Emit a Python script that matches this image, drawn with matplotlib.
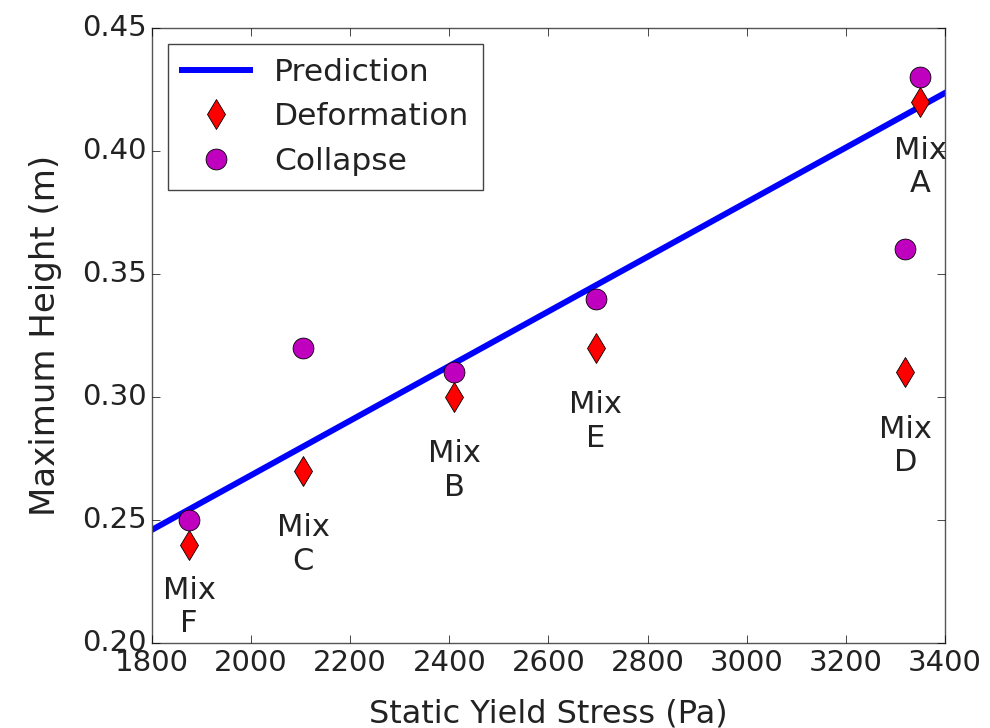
import numpy as np
import matplotlib
matplotlib.use('Agg')
import matplotlib.pyplot as plt

plt.style.use('classic')

# data
mixes = ['A', 'B', 'C', 'D', 'E', 'F']
stress = [3350, 2410, 2105, 3320, 2695, 1875]        # static yield stress (Pa)
deformation = [0.42, 0.30, 0.27, 0.31, 0.32, 0.24]   # max height (m)
collapse = [0.43, 0.31, 0.32, 0.36, 0.34, 0.25]
label_y = [0.3935, 0.27, 0.24, 0.28, 0.29, 0.2146]

pred_x = [1800, 3400]
pred_y = [0.246, 0.4236]

fig = plt.figure(figsize=(9.9, 7.28), dpi=100, facecolor='white')
ax = fig.add_axes([0.1535, 0.1168, 0.801, 0.8447])

ax.plot(pred_x, pred_y, 'b-', lw=4.3, label='Prediction')
ax.plot(stress, deformation, 'rd', ms=15, mew=0.6, label='Deformation')
ax.plot(stress, collapse, 'mo', ms=15, mew=0.6, label='Collapse')

for m, x, y in zip(mixes, stress, label_y):
    ax.text(x, y, 'Mix\n' + m, ha='center', va='center', fontsize=22,
            linespacing=1.2, color='#222222')

ax.set_xlim(1800, 3400)
ax.set_ylim(0.20, 0.45)
ax.set_xticks(np.arange(1800, 3401, 200))
ax.set_yticks(np.arange(0.20, 0.451, 0.05))
ax.yaxis.set_major_formatter(matplotlib.ticker.FormatStrFormatter('%.2f'))
ax.tick_params(labelsize=21, length=6, labelcolor='#222222')
for s in ax.spines.values():
    s.set_color('#555555')
ax.set_xlabel('Static Yield Stress (Pa)', fontsize=23, labelpad=16, color='#222222')
ax.set_ylabel('Maximum Height (m)', fontsize=24.5, labelpad=14, color='#222222')

leg = ax.legend(loc='upper left', numpoints=1, fontsize=22.5, borderaxespad=0.5,
                handlelength=2.2, handletextpad=0.75, labelspacing=0.5,
                borderpad=0.45)
leg.get_frame().set_edgecolor('#444444')
for t in leg.get_texts():
    t.set_color('#222222')

fig.savefig('out.png', dpi=100, facecolor='white')
